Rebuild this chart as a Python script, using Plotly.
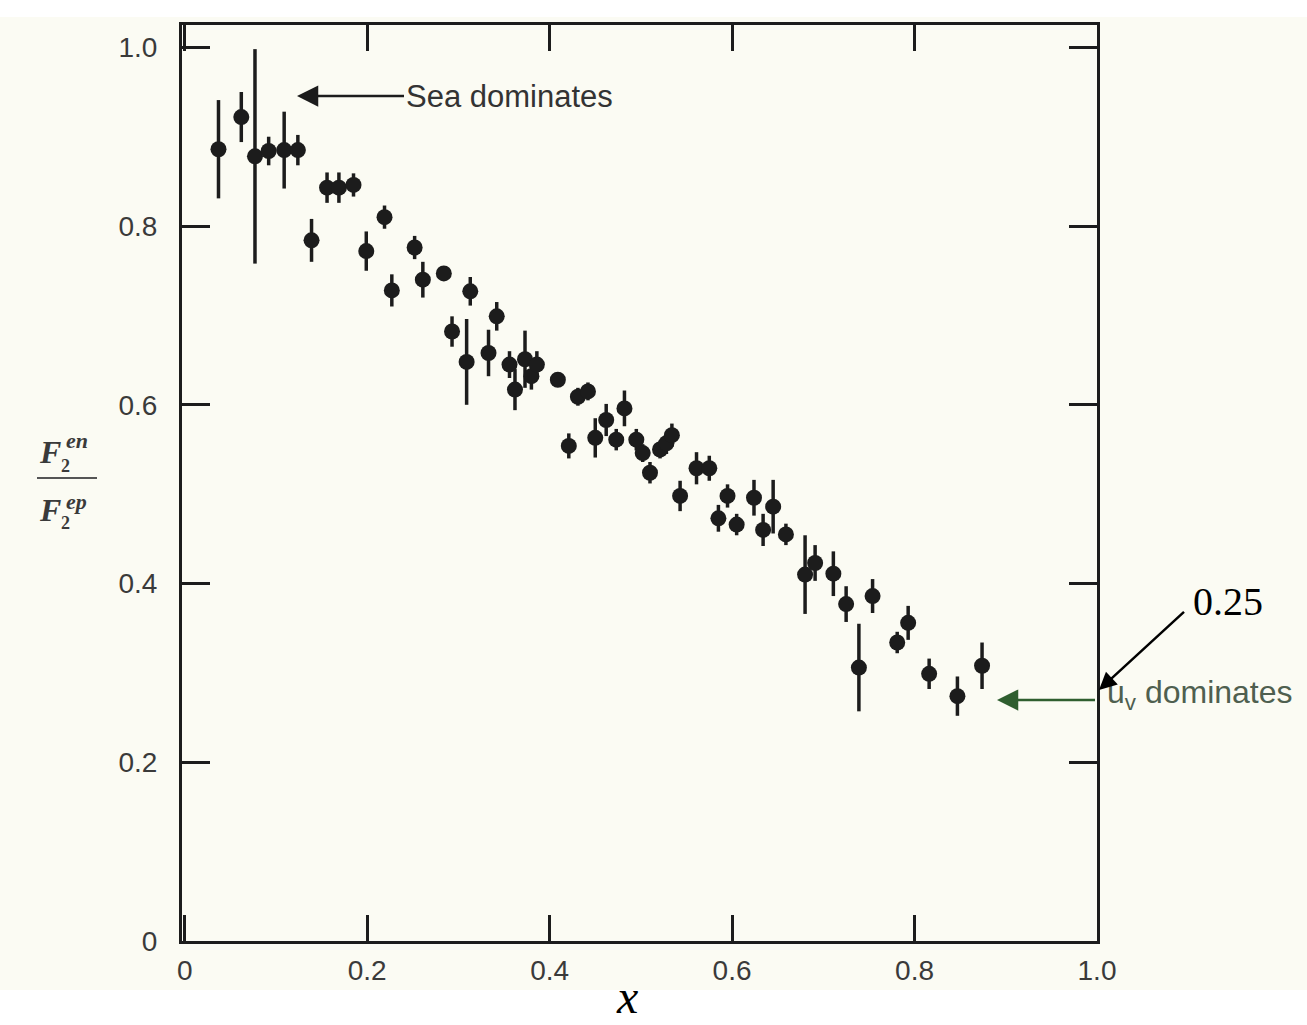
import plotly.graph_objects as go

# ---- data ----
x_vals = [0.037, 0.062, 0.077, 0.092, 0.109, 0.124, 0.139, 0.156, 0.169, 0.185,
          0.199, 0.219, 0.227, 0.252, 0.261, 0.284, 0.293, 0.309, 0.313, 0.333,
          0.342, 0.356, 0.362, 0.373, 0.380, 0.386, 0.409, 0.431, 0.442, 0.421,
          0.450, 0.462, 0.473, 0.482, 0.495, 0.502, 0.510, 0.521, 0.528, 0.534,
          0.543, 0.561, 0.575, 0.585, 0.595, 0.605, 0.624, 0.634, 0.645, 0.659,
          0.680, 0.691, 0.711, 0.725, 0.739, 0.754, 0.781, 0.793, 0.816, 0.847,
          0.874]
ratio_vals = [0.886, 0.922, 0.878, 0.884, 0.885, 0.885, 0.784, 0.843, 0.843, 0.846,
              0.772, 0.810, 0.728, 0.776, 0.740, 0.747, 0.682, 0.648, 0.727, 0.658,
              0.699, 0.645, 0.617, 0.651, 0.632, 0.645, 0.628, 0.609, 0.615, 0.554,
              0.563, 0.583, 0.561, 0.596, 0.561, 0.546, 0.524, 0.550, 0.557, 0.566,
              0.498, 0.529, 0.529, 0.473, 0.498, 0.466, 0.496, 0.460, 0.486, 0.455,
              0.410, 0.423, 0.411, 0.377, 0.306, 0.386, 0.334, 0.356, 0.299, 0.274,
              0.308]
err_vals = [0.055, 0.028, 0.120, 0.016, 0.043, 0.017, 0.024, 0.017, 0.017, 0.013,
            0.022, 0.013, 0.018, 0.013, 0.020, 0.008, 0.017, 0.048, 0.016, 0.026,
            0.016, 0.015, 0.023, 0.032, 0.015, 0.015, 0.006, 0.010, 0.010, 0.014,
            0.022, 0.018, 0.012, 0.020, 0.012, 0.010, 0.012, 0.010, 0.012, 0.013,
            0.017, 0.018, 0.014, 0.015, 0.013, 0.012, 0.020, 0.018, 0.030, 0.012,
            0.044, 0.020, 0.025, 0.020, 0.049, 0.019, 0.012, 0.019, 0.017, 0.022,
            0.026]
x_ticks = [0, 0.2, 0.4, 0.6, 0.8, 1.0]
x_tick_text = ["0", "0.2", "0.4", "0.6", "0.8", "1.0"]
y_ticks = [0, 0.2, 0.4, 0.6, 0.8, 1.0]
y_tick_text = ["0", "0.2", "0.4", "0.6", "0.8", "1.0"]

# ---- layout geometry (pixels) ----
W, H = 1307, 1025
L, R, T, B = 182, 1097, 25, 941
X_MIN, X_MAX = -0.003, 1.0
Y_MIN, Y_MAX = 0.0, 1.025


def px(xp):
    return (xp - L) / (R - L)


def py(yp):
    return (B - yp) / (B - T)


def dx(xp):
    return X_MIN + (xp - L) / (R - L) * (X_MAX - X_MIN)


def dy(yp):
    return Y_MIN + (B - yp) / (B - T) * (Y_MAX - Y_MIN)


INK = "#1c1c1c"
TICKFONT = dict(family="Liberation Sans, Arial", size=28, color="#3a3a3a")

fig = go.Figure()
fig.add_trace(go.Scatter(
    x=x_vals, y=ratio_vals, mode="markers",
    marker=dict(symbol="circle", size=16, color=INK),
    error_y=dict(type="data", array=err_vals, visible=True, thickness=3.5, width=0, color=INK),
    showlegend=False, cliponaxis=False,
))

axis_common = dict(showline=True, linewidth=3, linecolor=INK, mirror="ticks",
                   ticks="inside", tickwidth=3, tickcolor=INK, showgrid=False,
                   zeroline=False, tickfont=TICKFONT)
fig.update_xaxes(range=[X_MIN, X_MAX], tickvals=x_ticks, ticktext=x_tick_text,
                 ticklen=26, ticklabelstandoff=2, **axis_common)
fig.update_yaxes(range=[Y_MIN, Y_MAX], tickvals=y_ticks, ticktext=y_tick_text,
                 ticklen=28, ticklabelstandoff=16, **axis_common)

SERIF = "Liberation Serif, Times New Roman, serif"
SANS = "Liberation Sans, Arial, sans-serif"
annotations = []

# Sea dominates arrow
annotations.append(dict(
    x=dx(297), y=dy(96), xref="x", yref="y",
    text="Sea dominates", showarrow=True, ax=212, ay=0, axref="pixel", ayref="pixel",
    arrowhead=2, arrowsize=1.7, arrowwidth=2.5, arrowcolor=INK,
    font=dict(family=SANS, size=31, color="#333333"), xanchor="center", yanchor="middle",
))

# green arrow for u_v dominates (horizontal, from right axis)
annotations.append(dict(
    x=px(997), y=py(700), xref="paper", yref="paper",
    text=" ", showarrow=True, ax=100, ay=0, axref="pixel", ayref="pixel",
    arrowhead=2, arrowsize=1.7, arrowwidth=2.5, arrowcolor="#2f5e2f",
    font=dict(size=4),
))
annotations.append(dict(
    x=px(1105), y=py(694), xref="paper", yref="paper",
    text="u<sub>v</sub> dominates", showarrow=False, xanchor="left", yanchor="middle",
    font=dict(family=SANS, size=32, color="#4f5f4f"),
))

# 0.25 arrow and label
annotations.append(dict(
    x=px(1099), y=py(690), xref="paper", yref="paper",
    text=" ", showarrow=True, ax=87, ay=-80, axref="pixel", ayref="pixel",
    arrowhead=2, arrowsize=1.4, arrowwidth=2.5, arrowcolor="#000000",
    font=dict(size=4),
))
annotations.append(dict(
    x=px(1228), y=py(601), xref="paper", yref="paper",
    text="0.25", showarrow=False, xanchor="center", yanchor="middle",
    font=dict(family=SERIF, size=40, color="#000000"),
))

# x axis label
annotations.append(dict(
    x=px(627), y=py(1025), xref="paper", yref="paper",
    text="<i>x</i>", showarrow=False, xanchor="center", yanchor="bottom",
    font=dict(family=SERIF, size=48, color="#000000"),
))

# y axis label: F2^en / F2^ep
LBL = "#3a3a3a"
for (fx, fy, sx, sy, sup, bx, by) in [(50, 452, 77, 440, "en", 65, 466),
                                      (50, 510, 76, 502, "ep", 65, 523)]:
    annotations.append(dict(x=px(fx), y=py(fy), xref="paper", yref="paper", text="<b><i>F</i></b>",
                            showarrow=False, xanchor="center", yanchor="middle",
                            font=dict(family=SERIF, size=32, color=LBL)))
    annotations.append(dict(x=px(sx), y=py(sy), xref="paper", yref="paper", text=f"<b><i>{sup}</i></b>",
                            showarrow=False, xanchor="center", yanchor="middle",
                            font=dict(family=SERIF, size=22, color=LBL)))
    annotations.append(dict(x=px(bx), y=py(by), xref="paper", yref="paper", text="<b>2</b>",
                            showarrow=False, xanchor="center", yanchor="middle",
                            font=dict(family=SERIF, size=18, color=LBL)))

shapes = [
    dict(type="rect", xref="paper", yref="paper", x0=px(0), x1=px(W), y0=py(990), y1=py(17),
         fillcolor="#fbfbf3", line=dict(width=0), layer="below"),
    dict(type="line", xref="paper", yref="paper", x0=px(37), x1=px(97), y0=py(478), y1=py(478),
         line=dict(color="#555555", width=2)),
]

fig.update_layout(
    width=W, height=H,
    margin=dict(l=L, r=W - R, t=T, b=H - B, pad=0),
    paper_bgcolor="#ffffff", plot_bgcolor="rgba(0,0,0,0)",
    annotations=annotations, shapes=shapes,
)

fig.write_html("out.html", config={"displayModeBar": False},
               post_script="document.body.style.margin='0px';")
